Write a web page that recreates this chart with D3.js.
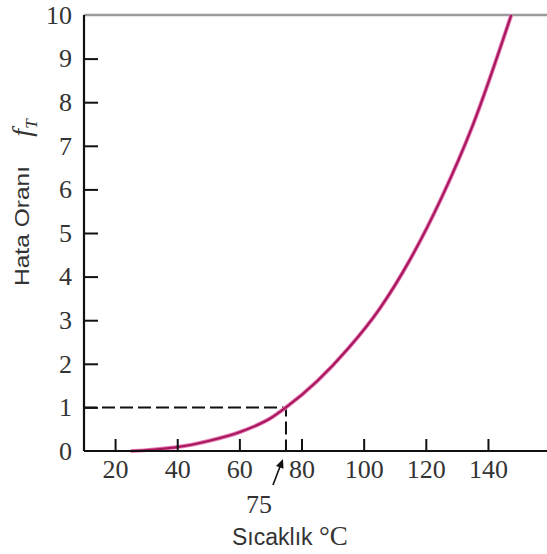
<!DOCTYPE html>
<html><head><meta charset="utf-8">
<script src="https://cdn.jsdelivr.net/npm/d3@7"></script>
<style>
html,body{margin:0;padding:0;background:#fff;}
svg{display:block;}
</style></head>
<body>
<svg id="c" width="547" height="554"></svg>
<script>
// Data
const temps = [25, 30, 35, 40, 50, 60, 70, 75, 85, 95, 105, 115, 125, 135, 147.5];
const rates = [0, 0.02, 0.05, 0.09, 0.23, 0.43, 0.75, 1.0, 1.6, 2.35, 3.25, 4.4, 5.8, 7.45, 10];
const xTicks = [20, 40, 60, 80, 100, 120, 140];
const yTicks = [0, 1, 2, 3, 4, 5, 6, 7, 8, 9, 10];
const refT = 75, refF = 1;

const svg = d3.select("#c");
const x = d3.scaleLinear().domain([10, 159]).range([84, 547]);
const y = d3.scaleLinear().domain([0, 10]).range([451, 15]);

// top border
svg.append("line").attr("x1", x(10)).attr("x2", 547).attr("y1", y(10)).attr("y2", y(10))
  .attr("stroke", "#9a9a9a").attr("stroke-width", 2.5);

// dashed reference lines
svg.append("path")
  .attr("d", `M${x(10)},${y(refF)}H${x(refT)}V${y(0)}`)
  .attr("fill", "none").attr("stroke", "#111").attr("stroke-width", 2)
  .attr("stroke-dasharray", "13,5");

// curve
const pts = temps.map((t, i) => [t, rates[i]]);
const line = d3.line().x(d => x(d[0])).y(d => y(d[1])).curve(d3.curveMonotoneX);
svg.append("path").datum(pts).attr("d", line)
  .attr("fill", "none").attr("stroke", "#e77bb5").attr("stroke-width", 4);
svg.append("path").datum(pts).attr("d", line)
  .attr("fill", "none").attr("stroke", "#a8185e").attr("stroke-width", 2.2);

// axes
const yAxis = d3.axisLeft(y).tickValues(yTicks).tickSizeInner(-14).tickSizeOuter(0).tickPadding(12);
const gy = svg.append("g").attr("transform", `translate(${x(10)},0)`).call(yAxis);
gy.selectAll(".tick line").filter(d => d === 0 || d === 10).remove();

const xAxis = d3.axisBottom(x).tickValues(xTicks).tickSizeInner(-12).tickSizeOuter(0).tickPadding(9);
const gx = svg.append("g").attr("transform", `translate(0,${y(0)})`).call(xAxis);

[gx, gy].forEach(g => {
  g.select(".domain").attr("stroke", "#111").attr("stroke-width", 2.2);
  g.selectAll(".tick line").attr("stroke", "#111").attr("stroke-width", 2);
  g.selectAll(".tick text").attr("font-family", "'Liberation Serif', 'DejaVu Serif', serif")
    .attr("font-size", 26).attr("fill", "#333");
});
gx.select(".domain").attr("d", `M${x(10)},0H547`);
gy.select(".domain").attr("d", `M0,${y(0)}V${y(10)}`);

// arrow to 75
const tipX = x(refT) - 3, tipY = y(0) + 8;
const tailX = tipX - 10, tailY = tipY + 26;
svg.append("line").attr("x1", tailX).attr("y1", tailY).attr("x2", tipX - 2).attr("y2", tipY + 5)
  .attr("stroke", "#111").attr("stroke-width", 1.6);
const ang = Math.atan2(tipY - tailY, tipX - tailX);
const hl = 9, hw = 4;
const bx = tipX - hl * Math.cos(ang), by = tipY - hl * Math.sin(ang);
svg.append("path")
  .attr("d", `M${tipX},${tipY}L${bx + hw * Math.sin(ang)},${by - hw * Math.cos(ang)}L${bx - hw * Math.sin(ang)},${by + hw * Math.cos(ang)}Z`)
  .attr("fill", "#111");
svg.append("text").attr("x", 259).attr("y", 513).attr("text-anchor", "middle")
  .attr("font-family", "'Liberation Serif', serif").attr("font-size", 26).attr("fill", "#333").text(refT);

// x label
const xl = svg.append("text").attr("x", 232).attr("y", 545).attr("fill", "#333");
xl.append("tspan").attr("font-family", "'Liberation Sans', Arial, sans-serif").attr("font-size", 23).text("Sıcaklık ");
xl.append("tspan").attr("font-family", "'Liberation Serif', serif").attr("font-size", 27).text("°C");

// y label
svg.append("text").attr("transform", "translate(29,226) rotate(-90)").attr("text-anchor", "middle")
  .attr("font-family", "'Liberation Sans', Arial, sans-serif").attr("font-size", 21).attr("fill", "#333")
  .attr("textLength", 120).attr("lengthAdjust", "spacingAndGlyphs")
  .text("Hata Oranı");
const fl = svg.append("text").attr("transform", "translate(31,128) rotate(-90)").attr("text-anchor", "middle")
  .attr("font-family", "'Liberation Serif', serif").attr("fill", "#333");
fl.append("tspan").attr("font-style", "italic").attr("font-size", 28).text("f");
fl.append("tspan").attr("font-style", "italic").attr("font-size", 17).attr("dy", 6).text("T");
</script>
</body></html>
